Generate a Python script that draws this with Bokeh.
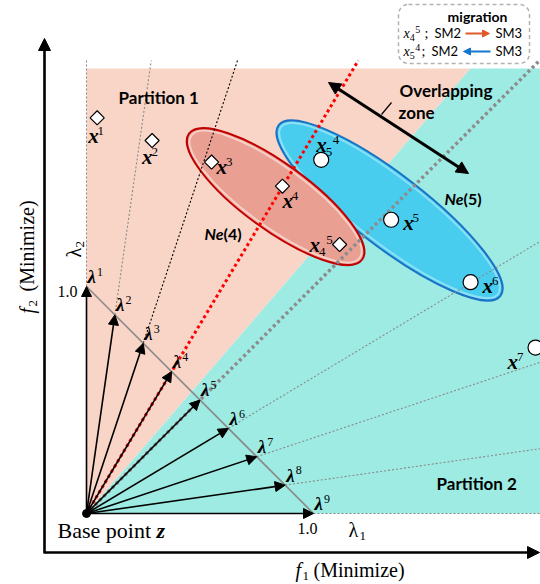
import math
from bokeh.plotting import figure
from bokeh.models import Range1d, Arrow, NormalHead, ColumnDataSource, BoxAnnotation
from bokeh.core.properties import value
from bokeh.embed import file_html
from bokeh.resources import INLINE

W, H = 540, 584
U = 227.0              # screen px per unit of f1 / f2
ZX, ZY = 86.0, 513.0   # screen position of the base point z

SERIF = "Liberation Serif"
SANS = "Lato"

# ---------------- data ----------------
lam_labels = ["1", "2", "3", "4", "5", "6", "7", "8", "9"]
lam_w1 = [0.0, 0.125, 0.25, 0.375, 0.5, 0.625, 0.75, 0.875, 1.0]
lam_w2 = [1.0, 0.875, 0.75, 0.625, 0.5, 0.375, 0.25, 0.125, 0.0]

dia_sub = ["", "", "", "", "4"]
dia_sup = ["1", "2", "3", "4", "5"]
dia_f1 = [0.047, 0.289, 0.551, 0.863, 1.115]
dia_f2 = [1.743, 1.643, 1.548, 1.442, 1.185]

cir_sub = ["5", "", "", ""]
cir_sup = ["4", "5", "6", "7"]
cir_f1 = [1.034, 1.342, 1.692, 1.978]
cir_f2 = [1.558, 1.294, 1.019, 0.731]

ne_labels = ["4", "5"]
ne_f1 = [0.833, 1.335]
ne_f2 = [1.396, 1.335]
ne_len = [0.943, 1.233]
ne_wid = [0.291, 0.317]
ne_tilt_deg = [-36.0, -37.6]

region_f1_max = 2.0
region_f2_max = 1.960
boundary_f1_at_top = 1.692

PINK = "#F8D5C6"
CYAN = "#9DEBE3"


def P(xp, yp):
    return (xp - ZX) / U, (ZY - yp) / U


def S(xd, yd):
    return ZX + xd * U, ZY - yd * U


x0, y1 = P(0, 0)
x1, y0 = P(W, H)
p = figure(width=W, height=H, x_range=Range1d(x0, x1), y_range=Range1d(y0, y1),
           output_backend="svg", toolbar_location=None, min_border=0,
           x_axis_location=None, y_axis_location=None, background_fill_color="white")
p.grid.visible = False
p.outline_line_color = None


def txt(xp, yp, s, size, font=SERIF, style="normal", align="left", baseline="alphabetic",
        color="black", angle=0.0):
    # (xp, yp) given as the alphabetic baseline; drawn with a 'middle' anchor
    if baseline == "alphabetic":
        k = 0.32 * size
        xp = xp - k * math.sin(angle)
        yp = yp - k * math.cos(angle)
        baseline = "middle"
    x, y = P(xp, yp)
    p.text(x=[x], y=[y], text=[s], text_font=value(font), text_font_size=f"{size}px",
           text_font_style=style, text_align=align, text_baseline=baseline,
           text_color=color, angle=angle)


def sym(xp, yp, base, sub="", sup="", size=18, bw=0.5, style="bold italic", font=SERIF,
        small=None):
    small = small or round(size * 0.62)
    txt(xp, yp, base, size, font, style)
    cx = xp + size * bw
    if sub:
        txt(cx, yp + size * 0.2, sub, small, font, "normal")
        cx += small * 0.55
    if sup:
        txt(cx, yp - size * 0.36, sup, small, font, "normal")


# ---------------- partitions ----------------
p.patch([0, 0, boundary_f1_at_top], [0, region_f2_max, region_f2_max],
        fill_color=PINK, line_color=None)
p.patch([0, boundary_f1_at_top, region_f1_max, region_f1_max], [0, region_f2_max, region_f2_max, 0],
        fill_color=CYAN, line_color=None)

# ---------------- ellipses ----------------
blue_i, red_i = 1, 0
p.ellipse(x=[ne_f1[blue_i]], y=[ne_f2[blue_i]], width=[ne_len[blue_i]], height=[ne_wid[blue_i]],
          angle=[math.radians(ne_tilt_deg[blue_i])], fill_color="#48CDEF", line_color="#1B72C4",
          line_width=2)
p.ellipse(x=[ne_f1[blue_i]], y=[ne_f2[blue_i]], width=[ne_len[blue_i] - 6 / U],
          height=[ne_wid[blue_i] - 6 / U], angle=[math.radians(ne_tilt_deg[blue_i])],
          fill_color=None, line_color="#A8E8F8", line_width=2, line_alpha=0.7)
p.ellipse(x=[ne_f1[red_i]], y=[ne_f2[red_i]], width=[ne_len[red_i]], height=[ne_wid[red_i]],
          angle=[math.radians(ne_tilt_deg[red_i])], fill_color="#E9A093", line_color="#C00000",
          line_width=2)
p.ellipse(x=[ne_f1[red_i]], y=[ne_f2[red_i]], width=[ne_len[red_i] - 6 / U],
          height=[ne_wid[red_i] - 6 / U], angle=[math.radians(ne_tilt_deg[red_i])],
          fill_color=None, line_color="#FBE3DC", line_width=2, line_alpha=0.7)

# ---------------- weight-vector direction lines ----------------
ytop = P(0, 60)[1]
xfar = region_f1_max + 0.2
for k in range(9):
    a, b = lam_w1[k], lam_w2[k]
    if b >= a:
        xe, ye = a / b * ytop, ytop
    else:
        xe, ye = xfar, b / a * xfar
    if k == 3:
        p.line([0, xe], [0, ye], line_color="#FF0000", line_width=3, line_dash="3 3")
    elif k == 4:
        p.line([0, xe], [0, ye], line_color="#8C8C8C", line_width=3.5, line_dash="3 3")
    else:
        col = "#000000" if k == 2 else "#8A8A8A"
        p.line([a, xe], [b, ye], line_color=col, line_width=1.1, line_dash="2 2")

# diagonal simplex line
p.line([lam_w1[0], lam_w1[-1]], [lam_w2[0], lam_w2[-1]], line_color="#8A8A8A", line_width=1.6)

# weight-vector arrows
asrc = ColumnDataSource(dict(xs=[0.0] * 9, ys=[0.0] * 9, xe=lam_w1, ye=lam_w2))
p.add_layout(Arrow(end=NormalHead(size=10, fill_color="black", line_color="black"),
                   source=asrc, x_start="xs", y_start="ys", x_end="xe", y_end="ye",
                   line_width=1.6, line_color="black"))
p.scatter([0], [0], size=8, color="black")

# lambda labels
for k in range(9):
    xp, yp = S(lam_w1[k], lam_w2[k])
    sym(xp + 1, yp - 4, "λ", sup=lam_labels[k], size=19, bw=0.5, small=12)

# ---------------- overlapping-zone arrow ----------------
ax0, ay0 = P(328, 82)
ax1, ay1 = P(468, 173)
p.add_layout(Arrow(start=NormalHead(size=12, fill_color="black", line_color="black"),
                   end=NormalHead(size=12, fill_color="black", line_color="black"),
                   x_start=ax0, y_start=ay0, x_end=ax1, y_end=ay1, line_width=3))
lx0, ly0 = P(391, 102)
lx1, ly1 = P(381, 114)
p.line([lx0, lx1], [ly0, ly1], line_color="black", line_width=1.2)

# ---------------- solutions ----------------
p.scatter(dia_f1, dia_f2, marker="square", angle=math.pi / 4, size=10,
          fill_color="white", line_color="black", line_width=1.2)
p.scatter(cir_f1, cir_f2, marker="circle", size=15,
          fill_color="white", line_color="black", line_width=1.2)

dia_off = [(-9, 25), (-10, 23), (5, 12), (0, 22), (-30, 7)]
for i in range(len(dia_f1)):
    xp, yp = S(dia_f1[i], dia_f2[i])
    dx, dy = dia_off[i]
    sym(xp + dx, yp + dy, "x", sub=dia_sub[i], sup=dia_sup[i], size=21, bw=0.45, small=13)
cir_off = [(-5, -8), (12, 10), (12, 11), (-28, 21)]
for i in range(len(cir_f1)):
    xp, yp = S(cir_f1[i], cir_f2[i])
    dx, dy = cir_off[i]
    sym(xp + dx, yp + dy, "x", sub=cir_sub[i], sup=cir_sup[i], size=21, bw=0.45, small=13)

# ---------------- region / neighbourhood texts ----------------
txt(118, 102, "Partition 1", 17, SANS, "bold")
txt(436, 488, "Partition 2", 17, SANS, "bold")
txt(399, 95, "Overlapping", 17, SANS, "bold")
txt(398, 117, "zone", 17, SANS, "bold")
txt(223, 238, "Ne", 16, SANS, "bold italic", align="right")
txt(223, 238, f"({ne_labels[0]})", 16, SANS, "bold")
txt(463, 203, "Ne", 16, SANS, "bold italic", align="right")
txt(463, 203, f"({ne_labels[1]})", 16, SANS, "bold")

# ---------------- main axes ----------------
vx, vy0 = P(44, 553)
_, vy1 = P(44, 38)
p.add_layout(Arrow(end=NormalHead(size=12, fill_color="black", line_color="black"),
                   x_start=vx, y_start=vy0, x_end=vx, y_end=vy1, line_width=2.6))
hx0, hy = P(44, 552)
hx1, _ = P(539, 552)
p.add_layout(Arrow(end=NormalHead(size=12, fill_color="black", line_color="black"),
                   x_start=hx0, y_start=hy, x_end=hx1, y_end=hy, line_width=2.6))

# axis titles
txt(295, 576, "f", 20, SERIF, "italic")
txt(302, 580, "1", 13, SERIF)
txt(313, 576, "(Minimize)", 20, SERIF)
txt(33, 313, "f", 20, SERIF, "italic", angle=math.pi / 2)
txt(37, 306, "2", 13, SERIF, angle=math.pi / 2)
txt(33, 291, "(Minimize)", 20, SERIF, angle=math.pi / 2)

txt(57, 537, "Base point ", 22, SERIF)
txt(156, 537, "z", 22, SERIF, "bold italic")
txt(67, 291, "1.0", 16, SERIF, align="center", baseline="middle")
txt(307, 528, "1.0", 16, SERIF, align="center", baseline="middle")
txt(348, 536, "λ", 20, SERIF)
txt(359, 540, "1", 13, SERIF)
txt(80, 257, "λ", 20, SERIF, angle=math.pi / 2)
txt(84, 247, "2", 13, SERIF, angle=math.pi / 2)

# ---------------- migration legend ----------------
bl, bt = P(398, 4)
br, bb = P(529, 63)
p.add_layout(BoxAnnotation(left=bl, right=br, top=bt, bottom=bb, border_radius=10,
                           fill_alpha=0, line_color="black", line_width=1.5,
                           line_dash="4 3", level="underlay"))
txt(477, 20, "migration", 14, SANS, "bold", align="center")
sym(403, 37, "x", sub="4", sup="5", size=14, bw=0.45, style="italic", small=10)
txt(424, 37, ";", 14, SERIF)
txt(434, 37, "SM2", 13, SANS)
txt(495, 37, "SM3", 13, SANS)
sym(403, 55, "x", sub="5", sup="4", size=14, bw=0.45, style="italic", small=10)
txt(421, 55, ";", 14, SERIF)
txt(431, 55, "SM2", 13, SANS)
txt(495, 55, "SM3", 13, SANS)
ox0, oy = P(465, 33)
ox1, _ = P(489, 33)
p.add_layout(Arrow(end=NormalHead(size=7, fill_color="#E2592B", line_color="#E2592B"),
                   x_start=ox0, y_start=oy, x_end=ox1, y_end=oy, line_width=2,
                   line_color="#E2592B"))
bx0, by = P(490, 51)
bx1, _ = P(463, 51)
p.add_layout(Arrow(end=NormalHead(size=7, fill_color="#1576CE", line_color="#1576CE"),
                   x_start=bx0, y_start=by, x_end=bx1, y_end=by, line_width=2,
                   line_color="#1576CE"))

open("out.html", "w").write(file_html(p, INLINE))
